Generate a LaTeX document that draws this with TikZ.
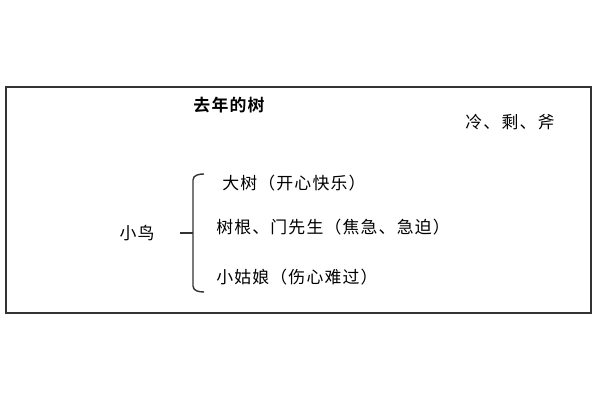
\documentclass[tikz,border=0pt]{standalone}
\usepackage{fontspec}
\newfontfamily\cjk{Noto Sans CJK SC}[BoldFont={Noto Sans CJK SC Bold}, LetterSpace=7]
\usepackage{tikz}
\usetikzlibrary{calc,positioning}

\begin{document}
\begin{tikzpicture}[font=\cjk\fontsize{12}{14}\selectfont, txt/.style={inner sep=0pt}]
		 	\useasboundingbox (0, 0) rectangle (15, 10);
		 	\draw[line width=1.1pt, black!80](0.15, 2.175) rectangle (14.775, 7.825);
		 	\node[txt, font=\cjk\bfseries\fontsize{12}{14}\selectfont] (title) at (5.725, 7.375) {去年的树};
		 	\node[txt] (words) at (12.75, 6.95) {冷、剩、斧};
		 	\node[txt] (bird) at (3.425, 4.175) {小鸟};

		 	% brace
		 	\coordinate (top) at (5.1, 5.65);
		 	\coordinate (bot) at (5.1, 2.7);
		 	\coordinate (mid) at (4.825, 4.175);
		 		\draw[line width=1pt, black!80](top) to[out=180, in=90] (4.825, 5.5) -- (4.825, 2.85) to[out=-90, in=180] (bot);
		 		\draw[line width=1.2pt, black!80](4.5, 4.175) -- (mid);

		 	\node[txt, anchor=west] (tree) at (5.55, 5.425) {大树（开心快乐）};
		 	\node[txt, anchor=west] (root) at (5.4, 4.325) {树根、门先生（焦急、急迫）};
		 	\node[txt, anchor=west] (girl) at (5.4, 3.075) {小姑娘（伤心难过）};
\end{tikzpicture}
\end{document}
